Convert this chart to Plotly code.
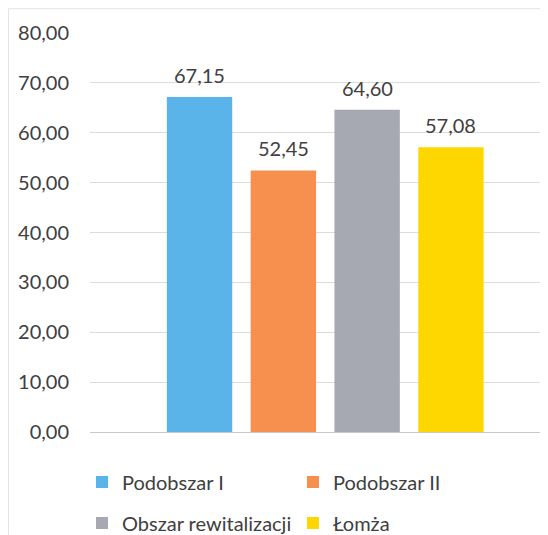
import plotly.graph_objects as go

# dane z wykresu (jedna kategoria, cztery serie)
serie = ['Podobszar I', 'Podobszar II', 'Obszar rewitalizacji', 'Łomża']
wartosci = [67.15, 52.45, 64.60, 57.08]
kolory = ['#5AB4EA', '#F7904E', '#A6A8B2', '#FFD700']
legendy = ['legend', 'legend', 'legend2', 'legend2']

czcionka = 'Lato'
szary_tekst = '#404040'

fig = go.Figure()

for i, (nazwa, v, kol, leg) in enumerate(zip(serie, wartosci, kolory, legendy)):
    fig.add_trace(go.Bar(
        x=[i], y=[v], name=nazwa, width=0.78,
        marker=dict(color=kol, line=dict(width=0)),
        legend=leg
    ))
    # etykieta nad slupkiem, troche wyzej niz standardowy tekst plotly
    fig.add_annotation(
        x=i, y=v, text=f'{v:.2f}'.replace('.', ','), showarrow=False,
        yanchor='middle', yshift=22,
        font=dict(size=20, color=szary_tekst, family=czcionka)
    )

# strona html ma 8px marginesu w body, wiec figura jest o 8px mniejsza
fig.update_layout(
    width=540, height=527,
    margin=dict(l=82, r=0, t=25, b=103, autoexpand=False),
    paper_bgcolor='white', plot_bgcolor='white',
    separators=', ',
    barmode='overlay',
    font=dict(family=czcionka, size=20, color=szary_tekst),
    xaxis=dict(range=[-1.307, 4.158], showticklabels=False, showgrid=False,
               zeroline=False, showline=False, fixedrange=True),
    yaxis=dict(range=[0, 80], dtick=10, tickformat='.2f', showgrid=True,
               gridcolor='#dcdcdc', gridwidth=1, zeroline=True,
               zerolinecolor='#c8c8c8', zerolinewidth=1, showline=False,
               ticklabelstandoff=20, tickfont=dict(size=20, color=szary_tekst)),
    legend=dict(orientation='h', x=-0.0175, y=-0.125, xanchor='left', yanchor='middle',
                entrywidth=166, itemwidth=30, font=dict(size=20, color=szary_tekst),
                bgcolor='rgba(0,0,0,0)'),
    legend2=dict(orientation='h', x=-0.0175, y=-0.228, xanchor='left', yanchor='middle',
                 entrywidth=166, itemwidth=30, font=dict(size=20, color=szary_tekst),
                 bgcolor='rgba(0,0,0,0)'),
    showlegend=True,
)

# ramka obszaru wykresu (slabo widoczna na skanie)
fig.add_shape(type='line', xref='paper', yref='paper', x0=-0.178, x1=-0.178, y0=-0.258, y1=1.061,
              line=dict(color='#e4e4e4', width=1))
fig.add_shape(type='line', xref='paper', yref='paper', x0=-0.178, x1=1.0, y0=1.061, y1=1.061,
              line=dict(color='#e4e4e4', width=1))

fig.write_html('out.html')
